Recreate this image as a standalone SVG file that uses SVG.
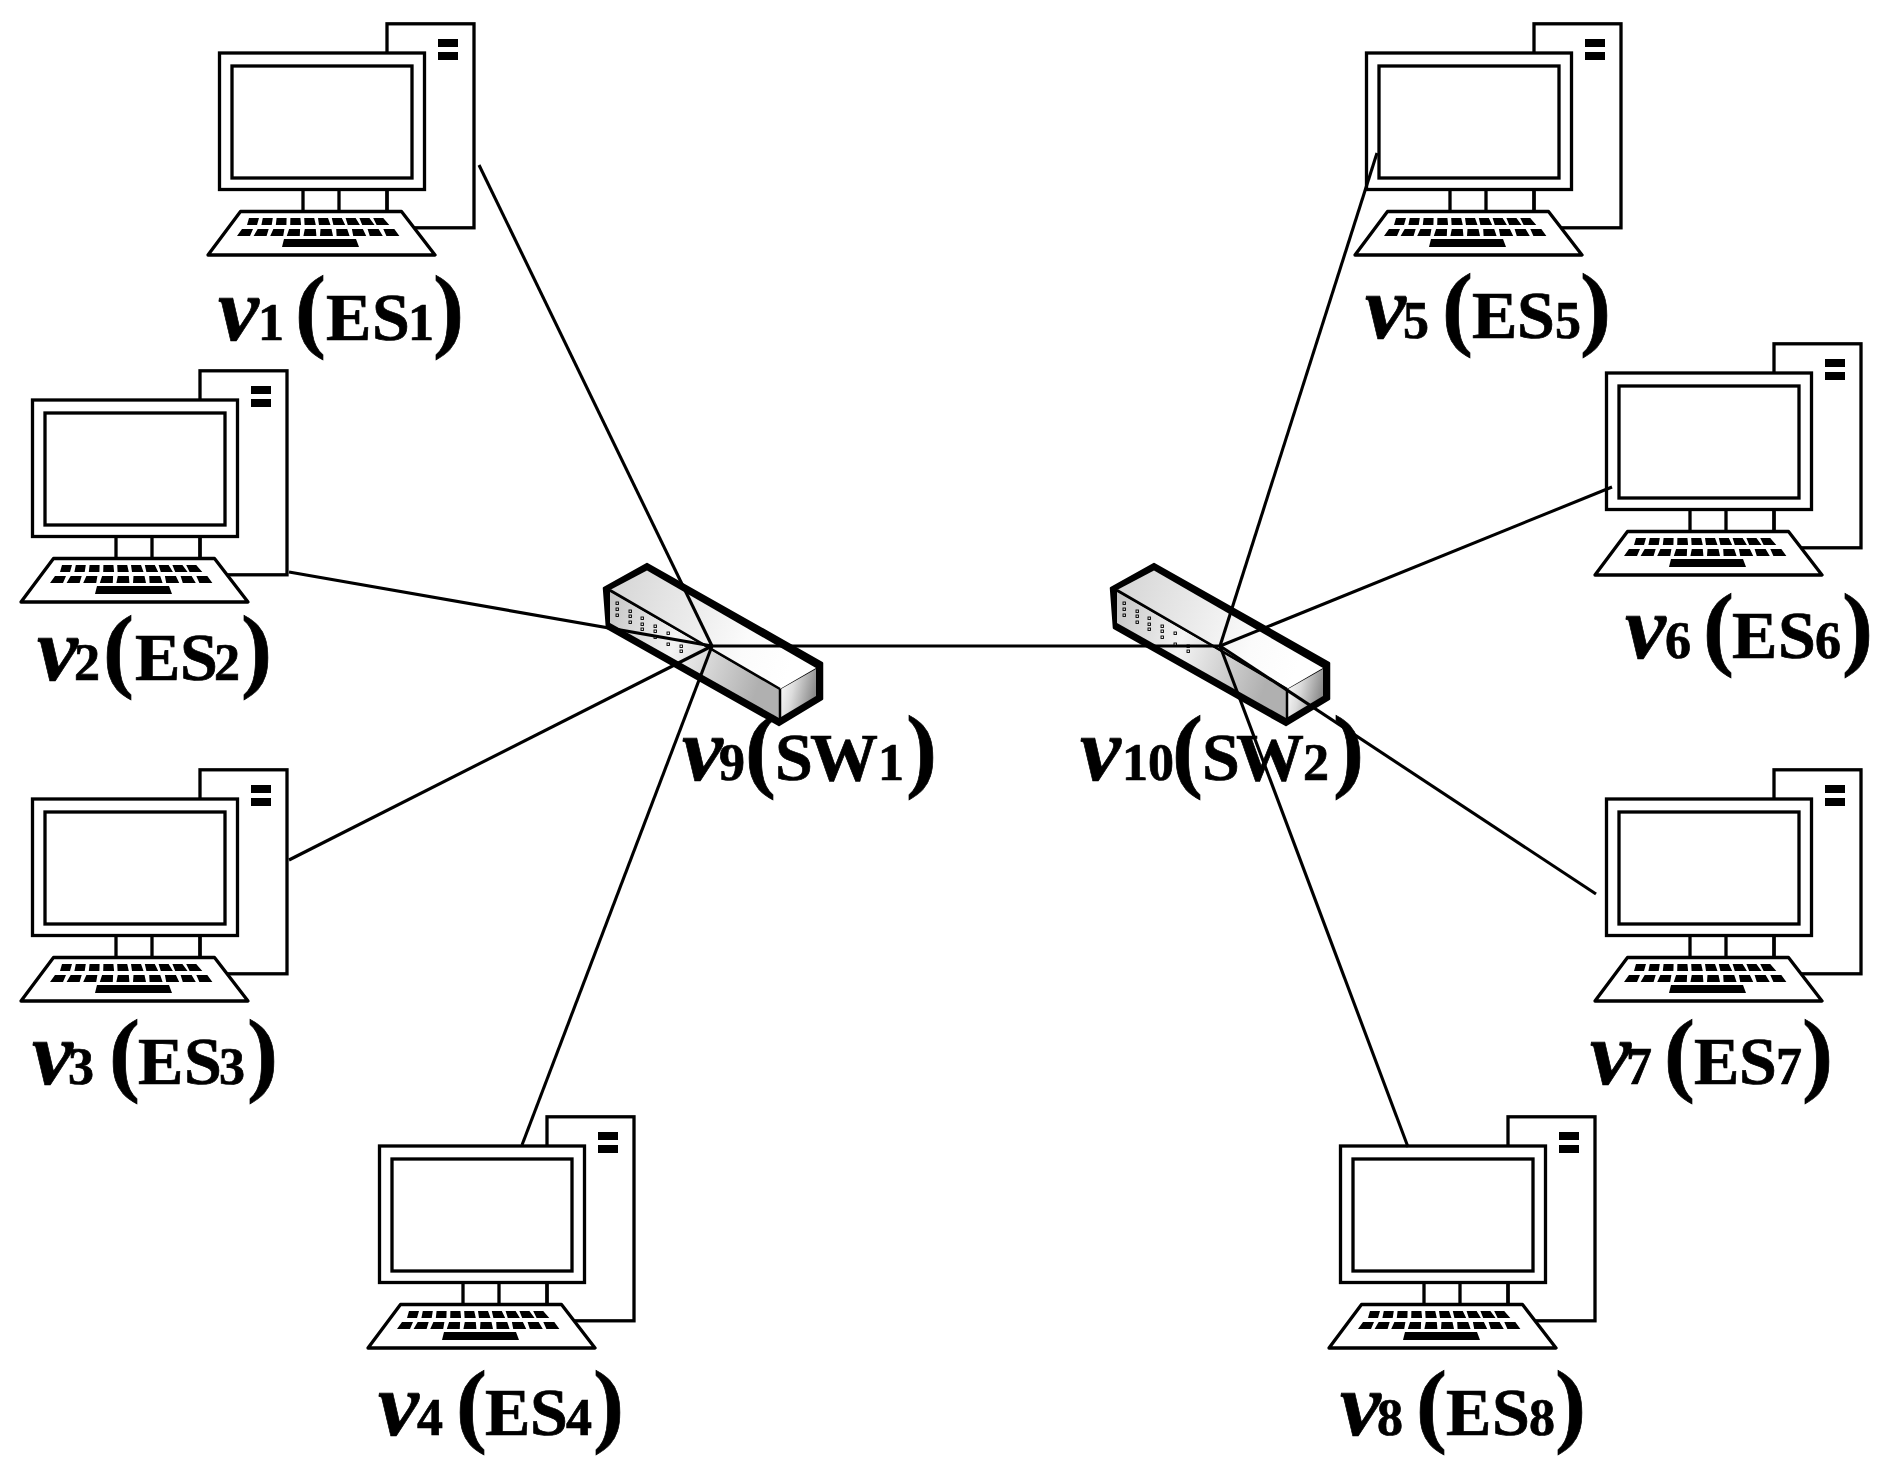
<svg xmlns="http://www.w3.org/2000/svg" width="1888" height="1476" viewBox="0 0 1888 1476">
<style>
text{font-family:"Liberation Serif","Times New Roman",serif;font-weight:bold;fill:#000;stroke:#000;stroke-width:.7}
.v{font-style:italic;font-size:92px}
.d{font-size:52px}
.c{font-size:68px}
.p{font-size:93px}
.pc-l{fill:#fff;stroke:#000;stroke-width:3.300}
.st{fill:none;stroke:#000;stroke-width:3.300}
.link{stroke:#000;stroke-width:3.100;fill:none}
.port{fill:none;stroke:#000;stroke-width:.9}
</style>
<defs>
<linearGradient id="gTop" x1="0" y1="0" x2="1" y2="0.2"><stop offset="0" stop-color="#d4d4d4"/><stop offset="0.75" stop-color="#fbfbfb"/><stop offset="1" stop-color="#fff"/></linearGradient>
<linearGradient id="gFront" x1="0" y1="0" x2="1" y2="0.25"><stop offset="0" stop-color="#c4c4c4"/><stop offset="0.45" stop-color="#f4f4f4"/><stop offset="1" stop-color="#b0b0b0"/></linearGradient>
<linearGradient id="gEnd" x1="0" y1="0.1" x2="1" y2="0.4"><stop offset="0" stop-color="#fdfdfd"/><stop offset="0.4" stop-color="#dcdcdc"/><stop offset="1" stop-color="#8a8a8a"/></linearGradient>
<g id="pc">
<rect class="pc-l" x="387" y="23.800" width="87" height="204"/>
<rect x="438" y="39" width="20" height="8"/>
<rect x="438" y="52" width="20" height="8"/>
<rect class="pc-l" x="219.500" y="53" width="205" height="136.500"/>
<rect class="pc-l" x="232" y="66" width="180" height="112"/>
<path class="st" d="M303 190V212M339 190V212M387 190V212"/>
<path class="pc-l" d="M240.500 211.500H401.500L435 255H208Z" stroke-linejoin="round"/>
<path d="M249 218h10l-2 7h-10zM262.800 218h10l-1.100 7h-10.300zM276.600 218h10l-.2 7h-10.600zM290.400 218h10l.7 7h-10.900zM304.200 218h10l1.600 7h-11.200zM318 218h10l2.500 7h-11.500zM331.800 218h10l3.400 7h-11.800zM345.600 218h10l4.300 7h-12.100zM359.400 218h10l5.200 7h-12.400zM373.200 218h10l6.100 7h-12.700z"/>
<path d="M242 229h11l-3 7h-13zM257.700 229h11l-2.100 7h-13zM273.400 229h11l-1.200 7h-13zM289.100 229h11l-.3 7h-13zM304.800 229h11l.6 7h-13zM320.500 229h11l1.500 7h-13zM336.200 229h11l2.400 7h-13zM351.900 229h11l3.300 7h-13zM367.600 229h11l4.200 7h-13zM383.300 229h11l5.100 7h-13z"/>
<path d="M284 239H356L359 247H282Z"/>
</g>
<g id="sw">
<path d="M604 588L647 564L822 663V699L779 725L607 628Z" fill="#000" stroke="#000" stroke-width="2.500" stroke-linejoin="round"/>
<path d="M610 590L647 570.500L816 668L780 689Z" fill="url(#gTop)"/>
<path d="M610 592L779 689V718L610 623Z" fill="url(#gFront)"/>
<path d="M781 689L816 669V696L781 717Z" fill="url(#gEnd)"/>
<path d="M610 590L780 689M780 689V722" fill="none" stroke="#000" stroke-width="2.500"/>
<g class="port">
<rect x="616" y="602" width="2.500" height="2.500"/><rect x="616" y="608" width="2.500" height="2.500"/><rect x="616" y="614" width="2.500" height="2.500"/>
<rect x="629" y="610" width="2.500" height="2.500"/><rect x="629" y="615" width="2.500" height="2.500"/><rect x="629" y="621" width="2.500" height="2.500"/>
<rect x="641" y="617" width="2.500" height="2.500"/><rect x="641" y="623" width="2.500" height="2.500"/><rect x="641" y="628" width="2.500" height="2.500"/>
<rect x="654" y="625" width="2.500" height="2.500"/><rect x="654" y="630" width="2.500" height="2.500"/><rect x="654" y="636" width="2.500" height="2.500"/>
<rect x="667" y="632" width="2.500" height="2.500"/><rect x="667" y="643" width="2.500" height="2.500"/>
<rect x="680" y="645" width="2.500" height="2.500"/><rect x="680" y="650" width="2.500" height="2.500"/>
</g>
</g>
</defs>
<rect width="1888" height="1476" fill="#fff"/>
<g id="v1"><use href="#pc"/><text y="340"><tspan class="v" x="218">v</tspan><tspan class="d" x="258">1</tspan><tspan class="p" x="295">(</tspan><tspan class="c" x="326">E</tspan><tspan class="c" x="372">S</tspan><tspan class="d" x="408">1</tspan><tspan class="p" x="433">)</tspan></text></g>
<g id="v2"><use href="#pc" transform="translate(-187,347)"/><text y="680"><tspan class="v" x="37">v</tspan><tspan class="d" x="74">2</tspan><tspan class="p" x="103">(</tspan><tspan class="c" x="135">E</tspan><tspan class="c" x="180">S</tspan><tspan class="d" x="214">2</tspan><tspan class="p" x="241">)</tspan></text></g>
<g id="v3"><use href="#pc" transform="translate(-187,746)"/><text y="1084"><tspan class="v" x="32">v</tspan><tspan class="d" x="68">3</tspan><tspan class="p" x="109">(</tspan><tspan class="c" x="138">E</tspan><tspan class="c" x="184">S</tspan><tspan class="d" x="219">3</tspan><tspan class="p" x="247">)</tspan></text></g>
<g id="v4"><use href="#pc" transform="translate(160,1093)"/><text y="1435"><tspan class="v" x="378">v</tspan><tspan class="d" x="417">4</tspan><tspan class="p" x="456">(</tspan><tspan class="c" x="485">E</tspan><tspan class="c" x="530">S</tspan><tspan class="d" x="566">4</tspan><tspan class="p" x="593">)</tspan></text></g>
<g id="v5"><use href="#pc" transform="translate(1147,0)"/><text y="338"><tspan class="v" x="1365">v</tspan><tspan class="d" x="1403">5</tspan><tspan class="p" x="1442">(</tspan><tspan class="c" x="1472">E</tspan><tspan class="c" x="1517">S</tspan><tspan class="d" x="1555">5</tspan><tspan class="p" x="1580">)</tspan></text></g>
<g id="v6"><use href="#pc" transform="translate(1387,320)"/><text y="658"><tspan class="v" x="1625">v</tspan><tspan class="d" x="1665">6</tspan><tspan class="p" x="1703">(</tspan><tspan class="c" x="1732">E</tspan><tspan class="c" x="1778">S</tspan><tspan class="d" x="1815">6</tspan><tspan class="p" x="1842">)</tspan></text></g>
<g id="v7"><use href="#pc" transform="translate(1387,746)"/><text y="1084"><tspan class="v" x="1590">v</tspan><tspan class="d" x="1626">7</tspan><tspan class="p" x="1664">(</tspan><tspan class="c" x="1694">E</tspan><tspan class="c" x="1739">S</tspan><tspan class="d" x="1776">7</tspan><tspan class="p" x="1802">)</tspan></text></g>
<g id="v8"><use href="#pc" transform="translate(1121,1093)"/><text y="1435"><tspan class="v" x="1340">v</tspan><tspan class="d" x="1377">8</tspan><tspan class="p" x="1416">(</tspan><tspan class="c" x="1446">E</tspan><tspan class="c" x="1492">S</tspan><tspan class="d" x="1529">8</tspan><tspan class="p" x="1555">)</tspan></text></g>
<g id="v9"><use href="#sw"/><text y="780"><tspan class="v" x="682">v</tspan><tspan class="d" x="719">9</tspan><tspan class="p" x="745">(</tspan><tspan class="c" x="775">S</tspan><tspan class="c" x="810">W</tspan><tspan class="d" x="878">1</tspan><tspan class="p" x="906">)</tspan></text></g>
<g id="v10"><use href="#sw" transform="translate(507,0)"/><text y="780"><tspan class="v" x="1080">v</tspan><tspan class="d" x="1122">10</tspan><tspan class="p" x="1172">(</tspan><tspan class="c" x="1202">S</tspan><tspan class="c" x="1236">W</tspan><tspan class="d" x="1303">2</tspan><tspan class="p" x="1333">)</tspan></text></g>
<g id="connectors" class="link">
<line x1="479" y1="165" x2="712" y2="646"/>
<line x1="289" y1="572" x2="712" y2="646"/>
<line x1="289" y1="860" x2="712" y2="646"/>
<line x1="522" y1="1145" x2="712" y2="646"/>
<line x1="712" y1="646" x2="1220" y2="646"/>
<line x1="1377" y1="153" x2="1220" y2="646"/>
<line x1="1612" y1="487" x2="1220" y2="646"/>
<line x1="1596" y1="894" x2="1220" y2="646"/>
<line x1="1408" y1="1147" x2="1220" y2="646"/>
</g>
</svg>
